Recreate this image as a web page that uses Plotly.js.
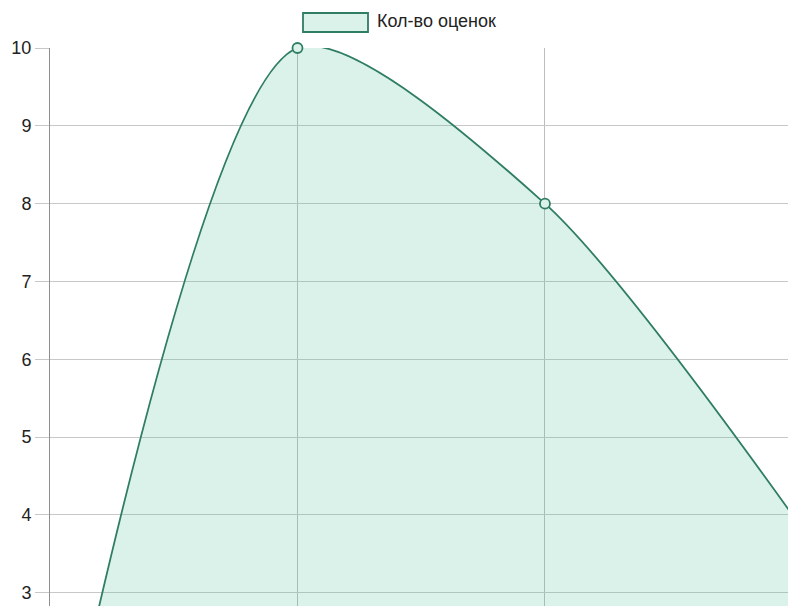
<!DOCTYPE html>
<html>
<head>
<meta charset="utf-8">
<script src="https://cdn.plot.ly/plotly-3.0.1.min.js"></script>
<style>html,body{margin:0;padding:0;background:#fff;}#chart{width:788px;height:606px;}</style>
</head>
<body>
<div id="chart"></div>
<script>
var categories = [0, 1, 2, 3];
var values = [0, 10, 8, 4];
var seriesName = "Кол-во оценок";
var yTicks = [3, 4, 5, 6, 7, 8, 9, 10];

var lineColor = "#2f7d62";
var fillColor = "rgba(75,192,150,0.2)";

var trace = {
  x: categories,
  y: values,
  type: "scatter",
  mode: "lines+markers",
  line: {color: lineColor, width: 1.8, shape: "spline", smoothing: 0.75},
  marker: {size: 10, color: "rgb(219,242,234)", line: {color: lineColor, width: 1.8}},
  fill: "tozeroy",
  fillcolor: fillColor,
  cliponaxis: false,
  hoverinfo: "none",
  showlegend: false
};

var layout = {
  width: 788, height: 606,
  margin: {l: 50, r: 0, t: 48, b: 0},
  paper_bgcolor: "#fff", plot_bgcolor: "#fff",
  font: {family: "Liberation Sans, Arial, sans-serif", size: 18, color: "#333"},
  xaxis: {
    range: [0, 2.982], showticklabels: false, zeroline: false,
    tickmode: "array", tickvals: categories,
    showgrid: true, gridcolor: "#bdbdbd", gridwidth: 1,
    showline: false, fixedrange: true
  },
  yaxis: {
    range: [2.83, 10], tickmode: "array", tickvals: yTicks, ticktext: yTicks.map(String),
    showgrid: true, gridcolor: "#c8c8c8", gridwidth: 1, zeroline: false,
    showline: true, linecolor: "#8f8f8f", linewidth: 1,
    ticks: "outside", ticklen: 14, tickcolor: "#c8c8c8", tickwidth: 1,
    tickfont: {family: "Liberation Sans, Arial, sans-serif", size: 18, color: "#222"},
    fixedrange: true
  },
  shapes: [{
    type: "rect", xref: "paper", yref: "paper",
    x0: (303 - 50) / 738, x1: (368 - 50) / 738,
    y0: (606 - 32) / 558, y1: (606 - 13) / 558,
    fillcolor: "rgb(219,242,234)", line: {color: lineColor, width: 1.8}
  }],
  annotations: [{
    xref: "paper", yref: "paper",
    x: (375 - 50) / 738, y: (606 - 21) / 558,
    xanchor: "left", yanchor: "middle", showarrow: false,
    text: seriesName,
    font: {family: "Liberation Sans, Arial, sans-serif", size: 18, color: "#222"}
  }]
};

Plotly.newPlot("chart", [trace], layout, {staticPlot: true, displayModeBar: false});
</script>
</body>
</html>
